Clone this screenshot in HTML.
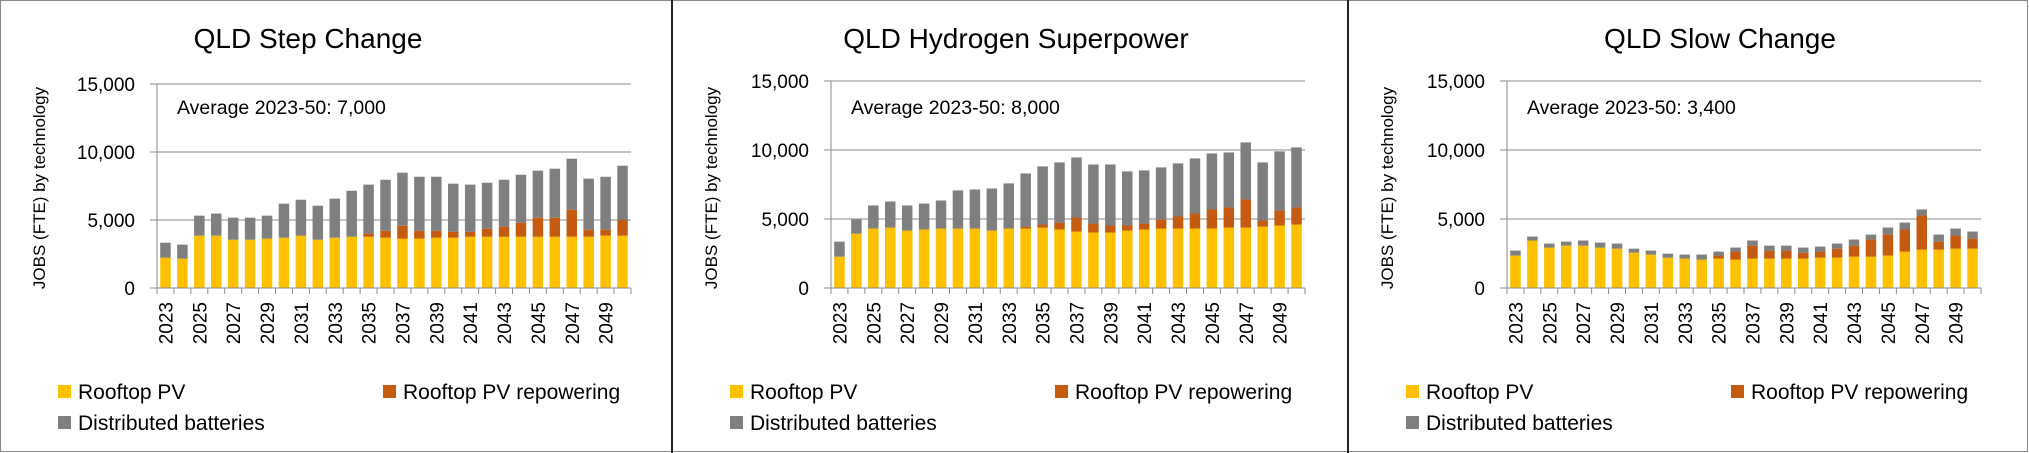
<!DOCTYPE html>
<html><head><meta charset="utf-8"><style>
html,body{margin:0;padding:0;background:#fff}
svg{display:block;font-family:"Liberation Sans",sans-serif}
</style></head><body>
<svg id="c" width="2029" height="453" viewBox="0 0 2029 453" xmlns="http://www.w3.org/2000/svg">
<rect x="0.5" y="0.5" width="2027" height="451" fill="#fff" stroke="#888"/>
<line x1="672" y1="0" x2="672" y2="453" stroke="#222" stroke-width="2"/>
<line x1="1348" y1="0" x2="1348" y2="453" stroke="#222" stroke-width="2"/>
</svg>
<script>
const years = [2023,2024,2025,2026,2027,2028,2029,2030,2031,2032,2033,2034,2035,2036,2037,2038,2039,2040,2041,2042,2043,2044,2045,2046,2047,2048,2049,2050];
const yTicks = [0,5000,10000,15000];
const yTickLabels = ["0","5,000","10,000","15,000"];
const titles = ["QLD Step Change","QLD Hydrogen Superpower","QLD Slow Change"];
const averages = ["Average 2023-50: 7,000","Average 2023-50: 8,000","Average 2023-50: 3,400"];
const seriesNames = ["Rooftop PV","Rooftop PV repowering","Distributed batteries"];
// Step Change
const stepPV = [2230,2160,3850,3850,3550,3550,3630,3700,3850,3550,3700,3770,3770,3700,3630,3630,3700,3700,3770,3770,3770,3770,3770,3770,3770,3770,3850,3850];
const stepRepower = [0,0,0,0,0,0,0,0,0,0,0,0,250,510,950,580,510,440,370,590,740,1030,1400,1400,1990,520,440,1170];
const stepBatt = [1100,1030,1470,1620,1620,1620,1690,2500,2640,2500,2870,3380,3580,3750,3900,3970,3970,3530,3460,3380,3450,3530,3460,3600,3750,3750,3890,3970];
// Hydrogen Superpower
const h2PV = [2270,3940,4310,4380,4160,4240,4310,4310,4310,4160,4310,4310,4380,4240,4090,4020,4020,4160,4240,4310,4310,4310,4310,4380,4380,4450,4530,4600];
const h2Repower = [0,0,0,0,0,0,0,0,0,0,0,140,220,500,1020,650,510,370,430,650,870,1090,1380,1450,2030,440,1080,1230];
const h2Batt = [1090,1020,1670,1890,1820,1880,2030,2760,2830,3050,3270,3850,4210,4360,4350,4280,4420,3920,3850,3780,3850,3990,4060,3990,4140,4210,4290,4360];
// Slow Change
const slowPV = [2350,3440,2930,3070,3070,2930,2850,2560,2420,2200,2130,2060,2130,2060,2130,2130,2130,2130,2200,2200,2270,2270,2350,2640,2780,2780,2850,2850];
const slowRepower = [0,0,0,0,0,0,0,0,0,0,0,0,220,580,940,580,580,430,440,650,800,1240,1520,1600,2470,580,950,730];
const slowBatt = [360,290,290,290,370,360,370,290,290,290,290,360,290,290,370,360,360,370,360,370,440,360,510,500,440,510,510,510];

const panels = [
  {px:0, ax:157, top:84, title:308, pv:stepPV, rep:stepRepower, bat:stepBatt},
  {px:672, ax:831, top:81, title:1016, pv:h2PV, rep:h2Repower, bat:h2Batt},
  {px:1348, ax:1507, top:81, title:1720, pv:slowPV, rep:slowRepower, bat:slowBatt}
];
const colors = ["#FFC000","#C55A11","#7F7F7F"];
const NS = "http://www.w3.org/2000/svg";
const svg = document.getElementById('c');
function mk(tag, attrs, parent){
  const e = document.createElementNS(NS, tag);
  for (const k in attrs) e.setAttribute(k, attrs[k]);
  (parent||svg).appendChild(e);
  return e;
}
const bottom = 288, plotW = 474;
panels.forEach((p, pi) => {
  const g = mk('g', {});
  
  
  const yScale = v => bottom - v / 15000 * (bottom - p.top);
  const step = plotW / years.length;
  const xScale = i => p.ax + step * i;
  const bw = 10.5;
  yTicks.forEach((t, ti) => {
    const y = yScale(t);
    if (t > 0) {
      const gl = mk('line', {x1:p.ax-7, x2:p.ax+plotW, y1:y, y2:y, stroke:'#8a8a8a', 'stroke-width':1}, g);
      
      
    }
    const tl = mk('text', {x:p.ax-22, y:y+7, 'text-anchor':'end', 'font-size':19, fill:'#000'}, g);
    tl.textContent = yTickLabels[ti];
    
    
  });
  years.forEach((yr, i) => {
    const cx = xScale(i) + step/2;
    const vals = [p.pv[i], p.rep[i], p.bat[i]];
    let base = 0;
    vals.forEach((v, si) => {
      if (v <= 0) return;
      const y1 = yScale(base + v), y0 = yScale(base);
      const r = mk('rect', {x:cx-bw/2, y:y1, width:bw, height:y0-y1, fill:colors[si]}, g);
      
      
      base += v;
    });
  });
  const ya = mk('line', {x1:p.ax, x2:p.ax, y1:p.top, y2:bottom, stroke:'#8a8a8a'}, g);
  
  
  const xa = mk('line', {x1:p.ax-7, x2:p.ax+plotW, y1:bottom, y2:bottom, stroke:'#8a8a8a'}, g);
  
  
  for (let i = 0; i <= years.length; i++) {
    const tk = mk('line', {x1:xScale(i), x2:xScale(i), y1:bottom, y2:bottom+6, stroke:'#8a8a8a'}, g);
    
    
  }
  years.forEach((yr, i) => {
    if (i % 2) return;
    const cx = xScale(i) + step/2 + 7;
    const t = mk('text', {x:cx, y:302, transform:'rotate(-90 '+cx+' 302)', 'text-anchor':'end', 'font-size':19, fill:'#000'}, g);
    t.textContent = yr;
    
    
  });
  const tt = mk('text', {x:p.title, y:48, 'text-anchor':'middle', 'font-size':28, fill:'#000'}, g);
  tt.textContent = titles[pi];
  
  
  const av = mk('text', {x:p.ax+20, y:114, 'font-size':19.5, fill:'#000'}, g);
  av.textContent = averages[pi];
  
  
  const yx = p.px + 45, yy = 188;
  const yt = mk('text', {x:yx, y:yy, transform:'rotate(-90 '+yx+' '+yy+')', 'text-anchor':'middle', 'font-size':17, fill:'#000'}, g);
  yt.textContent = 'JOBS (FTE) by technology';
  
  
  const lpos = [[p.px+58, 399],[p.px+383, 399],[p.px+58, 430]];
  seriesNames.forEach((n, si) => {
    const [lx, ly] = lpos[si];
    const lg = mk('g', {}, g);
    
    
    mk('rect', {x:lx, y:ly-14, width:13, height:13, fill:colors[si]}, lg);
    const lt = mk('text', {x:lx+20, y:ly, 'font-size':21, fill:'#000'}, lg);
    lt.textContent = n;
  });
});
</script>
</body></html>
